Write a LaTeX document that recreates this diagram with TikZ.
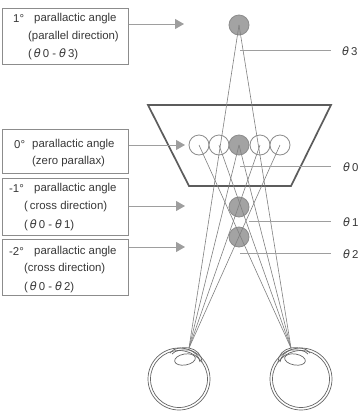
\documentclass[tikz,border=0pt]{standalone}
\usepackage{fontspec}
\setmainfont{Liberation Sans}
\newfontfamily\symfont{DejaVu Sans}
\usetikzlibrary{arrows.meta}
\definecolor{linegray}{gray}{0.62}
\definecolor{raygray}{gray}{0.5}
\definecolor{boxgray}{gray}{0.55}
\definecolor{fillgray}{gray}{0.64}
\definecolor{framegray}{gray}{0.36}
\definecolor{textgray}{gray}{0.22}
\newcommand{\thetaglyph}{{\symfont\itshape θ}}
\tikzset{
  x=1pt, y=-1pt,
  infobox/.style={draw=boxgray, line width=0.9pt, minimum width=126pt, inner sep=0pt, anchor=north west},
  boxtext/.style={text=textgray, font=\fontsize{11.4}{12}\selectfont, anchor=west, inner sep=0pt, yshift=-1pt},
  pointer/.style={draw=linegray, line width=1pt, -{Triangle[length=9pt,width=10pt]}},
  leader/.style={draw=linegray, line width=0.9pt},
  ray/.style={draw=raygray, line width=0.6pt},
  dot/.style={circle, draw=boxgray, line width=0.8pt, fill=fillgray, minimum size=20pt, inner sep=0pt},
  opendot/.style={circle, draw=boxgray, line width=0.8pt, fill=white, minimum size=20pt, inner sep=0pt},
  eyeline/.style={draw=black!60, line width=0.7pt},
  anglelabel/.style={text=textgray, font=\fontsize{11.4}{12}\selectfont, anchor=west, inner sep=0pt, yshift=-1pt},
}
\begin{document}
\begin{tikzpicture}
\useasboundingbox (0,0) rectangle (359,416);
\fill[white] (0,0) rectangle (359,416);

% Screen trapezoid
\draw[framegray, line width=1.7pt, line join=miter] (148,105) -- (331,105) -- (291,186) -- (189,186) -- cycle;

% Eyes, the right one mirrored
\coordinate (apexL) at (189,348);
\coordinate (apexR) at (291,348);
\foreach \cx/\fl in {179/1, 301/-1}{
  \begin{scope}[shift={(\cx,379)}, xscale=\fl]
    \draw[eyeline] (0,0) circle (31);
    \draw[eyeline] (0,0) circle (28.5);
    \draw[eyeline] (-9,-26) .. controls (-6,-31) and (4,-32) .. (10,-31) .. controls (17,-30) and (23,-24) .. (23,-17);
    \draw[eyeline] (-7,-25) .. controls (-4,-29) and (4,-29.5) .. (10,-29) .. controls (15,-28) and (20,-23) .. (21,-17);
    \draw[eyeline, fill=white] (6,-19.5) ellipse[x radius=10.5, y radius=5.5, rotate=10];
  \end{scope}
}

% Fusion dots on the screen
\node[opendot] (s1) at (199,145) {};
\node[opendot] (s2) at (219,145) {};
\node[opendot] (s4) at (260,145) {};
\node[opendot] (s5) at (280,145) {};
\node[dot] (s3) at (239,145) {};

% Depth dots in front of and behind the screen
\node[dot] (d3) at (239,25) {};
\node[dot] (d1) at (239,207) {};
\node[dot] (d2) at (239,237) {};

% Rays from each eye, running across the dots
\foreach \t in {d3, s3, s4, s5}{
  \draw[ray] (apexL) -- (\t.center);
}
\foreach \t in {d3, s3, s2, s1}{
  \draw[ray] (apexR) -- (\t.center);
}

% Angle labels with their leader lines
\node[anglelabel] (t3) at (342,50) {\thetaglyph\,3};
\node[anglelabel] (t0) at (343,166) {\thetaglyph\,0};
\node[anglelabel] (t1) at (343,221) {\thetaglyph\,1};
\node[anglelabel] (t2) at (343,253) {\thetaglyph\,2};
\coordinate (l3) at (240,50);
\coordinate (l0) at (240,166);
\coordinate (l1) at (249,221);
\coordinate (l2) at (240,253);
\draw[leader] (l3) -- (331,50);
\draw[leader] (l0) -- (331,166);
\draw[leader] (l1) -- (331,221);
\draw[leader] (l2) -- (331,253);

% Description boxes
\node[infobox, minimum height=56pt] (b1) at (2,8) {};
\node[infobox, minimum height=44pt] (b2) at (2,129) {};
\node[infobox, minimum height=57pt] (b3) at (2,178) {};
\node[infobox, minimum height=56pt] (b4) at (2,239) {};

\node[boxtext] (b1a) at (13,18) {1°};
\node[boxtext] (b1b) at (34,18) {parallactic angle};
\node[boxtext] (b1c) at (28,36) {(parallel direction)};
\node[boxtext] (b1d) at (28,53) {(\,\thetaglyph\,0 - \thetaglyph\,3)};

\node[boxtext] (b2a) at (14,144) {0°};
\node[boxtext] (b2b) at (32,144) {parallactic angle};
\node[boxtext] (b2c) at (32,161) {(zero parallax)};

\node[boxtext] (b3a) at (9,188) {-1°};
\node[boxtext] (b3b) at (34,188) {parallactic angle};
\node[boxtext] (b3c) at (24,206) {(\,cross direction)};
\node[boxtext] (b3d) at (24,224) {(\,\thetaglyph\,0 - \thetaglyph\,1)};

\node[boxtext] (b4a) at (9,251) {-2°};
\node[boxtext] (b4b) at (34,251) {parallactic angle};
\node[boxtext] (b4c) at (24,268) {(cross direction)};
\node[boxtext] (b4d) at (24,286) {(\,\thetaglyph\,0 - \thetaglyph\,2)};

% Arrows from the boxes toward the depth plane
\coordinate (p1) at (184,24);
\coordinate (p2) at (185,145);
\coordinate (p3) at (185,206);
\coordinate (p4) at (185,247);
\draw[pointer] (b1.east |- p1) -- (p1);
\draw[pointer] (b2.east |- p2) -- (p2);
\draw[pointer] (b3.east |- p3) -- (p3);
\draw[pointer] (b4.east |- p4) -- (p4);
\end{tikzpicture}
\end{document}
